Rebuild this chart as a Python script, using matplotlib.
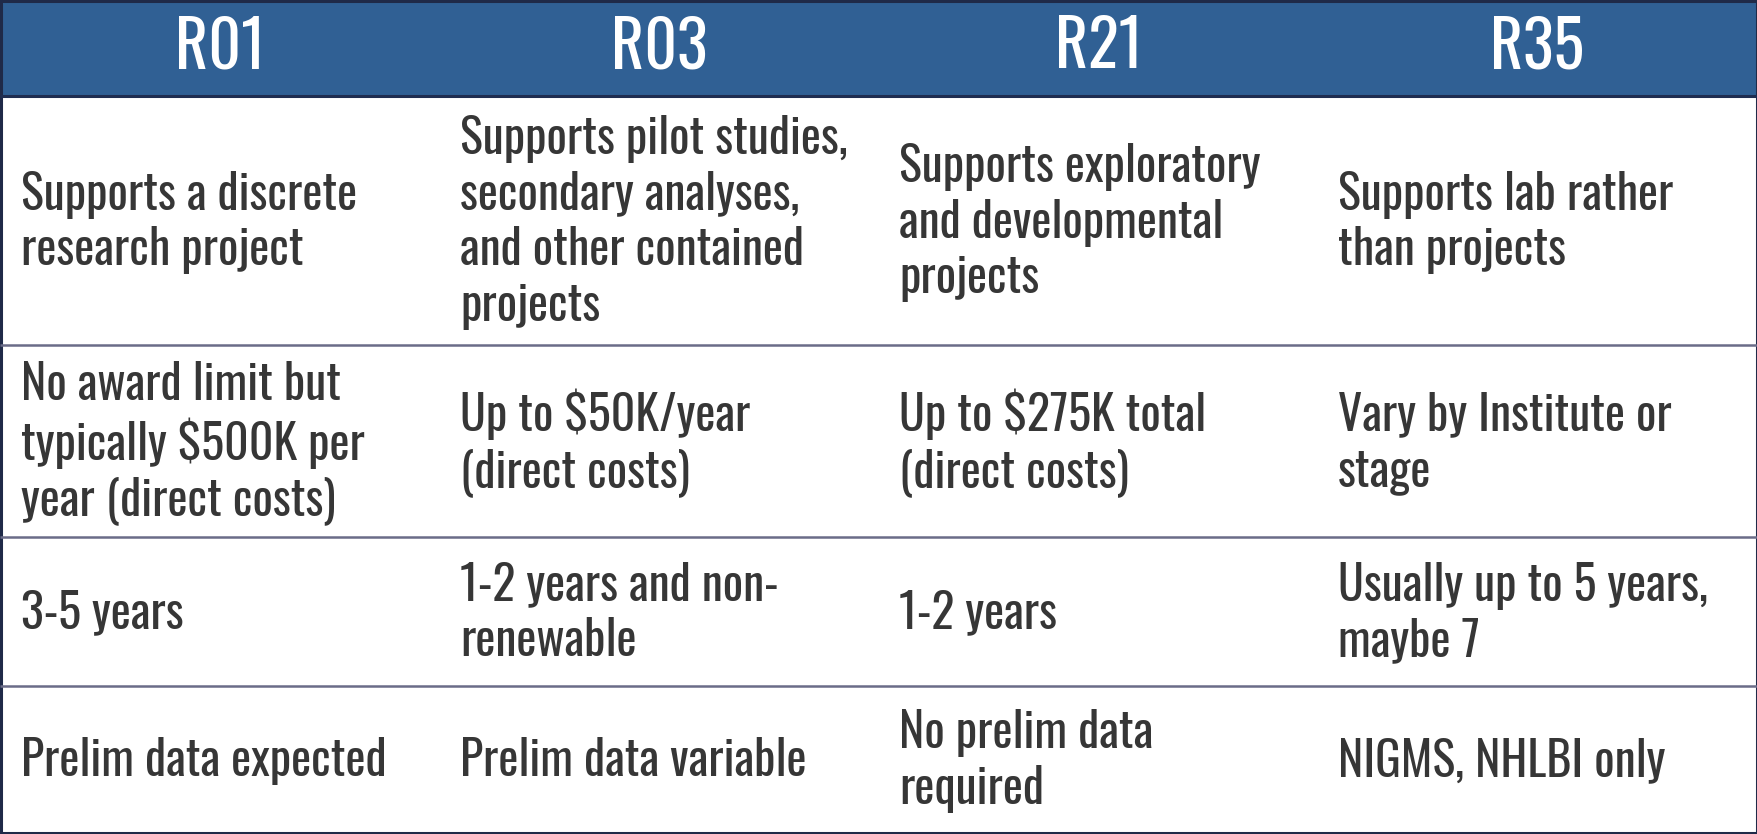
import matplotlib
matplotlib.use("Agg")
import matplotlib.pyplot as plt
from matplotlib.patches import Rectangle

plt.rcParams['font.family'] = ['Oswald', 'Roboto Condensed', 'IBM Plex Sans Condensed', 'DejaVu Sans']

headers = ["R01", "R03", "R21", "R35"]
row_purpose = ["Supports a discrete\nresearch project",
               "Supports pilot studies,\nsecondary analyses,\nand other contained\nprojects",
               "Supports exploratory\nand developmental\nprojects",
               "Supports lab rather\nthan projects"]
row_budget = ["No award limit but\ntypically $500K per\nyear (direct costs)",
              "Up to $50K/year\n(direct costs)",
              "Up to $275K total\n(direct costs)",
              "Vary by Institute or\nstage"]
row_length = ["3-5 years",
              "1-2 years and non-\nrenewable",
              "1-2 years",
              "Usually up to 5 years,\nmaybe 7"]
row_data = ["Prelim data expected",
            "Prelim data variable",
            "No prelim data\nrequired",
            "NIGMS, NHLBI only"]
rows = [row_purpose, row_budget, row_length, row_data]

W, H = 1758, 834
fig = plt.figure(figsize=(W / 100, H / 100), dpi=100)
ax = fig.add_axes([0, 0, 1, 1])
ax.set_xlim(0, W)
ax.set_ylim(H, 0)
ax.axis('off')

header_bottom = 96
row_edges = [header_bottom, 345, 537, 686, 832]
col_w = (W - 2) / 4
pad = 20

# header band
ax.add_patch(Rectangle((0, 0), W, header_bottom, facecolor='#306094', edgecolor='none'))
ax.plot([0, W], [header_bottom, header_bottom], color='#1f2d50', lw=2.2, solid_capstyle='butt')
for i, h in enumerate(headers):
    ax.text(1 + col_w * (i + 0.5), header_bottom / 2, h, color='white', fontsize=46,
            ha='center', va='center')

# row lines
for y in row_edges[1:-1]:
    ax.plot([0, W], [y, y], color='#6a6c88', lw=1.8, solid_capstyle='butt')

# cell texts
for r, row in enumerate(rows):
    yc = (row_edges[r] + row_edges[r + 1]) / 2 + 2
    for c, txt in enumerate(row):
        ax.text(1 + col_w * c + pad, yc, txt, color='#363636', fontsize=34.5,
                ha='left', va='center', linespacing=1.2)

# outer border
ax.add_patch(Rectangle((1, 1), W - 2, H - 2, facecolor='none', edgecolor='#1f2a48', lw=2.2))

fig.savefig('out.png', dpi=100)
